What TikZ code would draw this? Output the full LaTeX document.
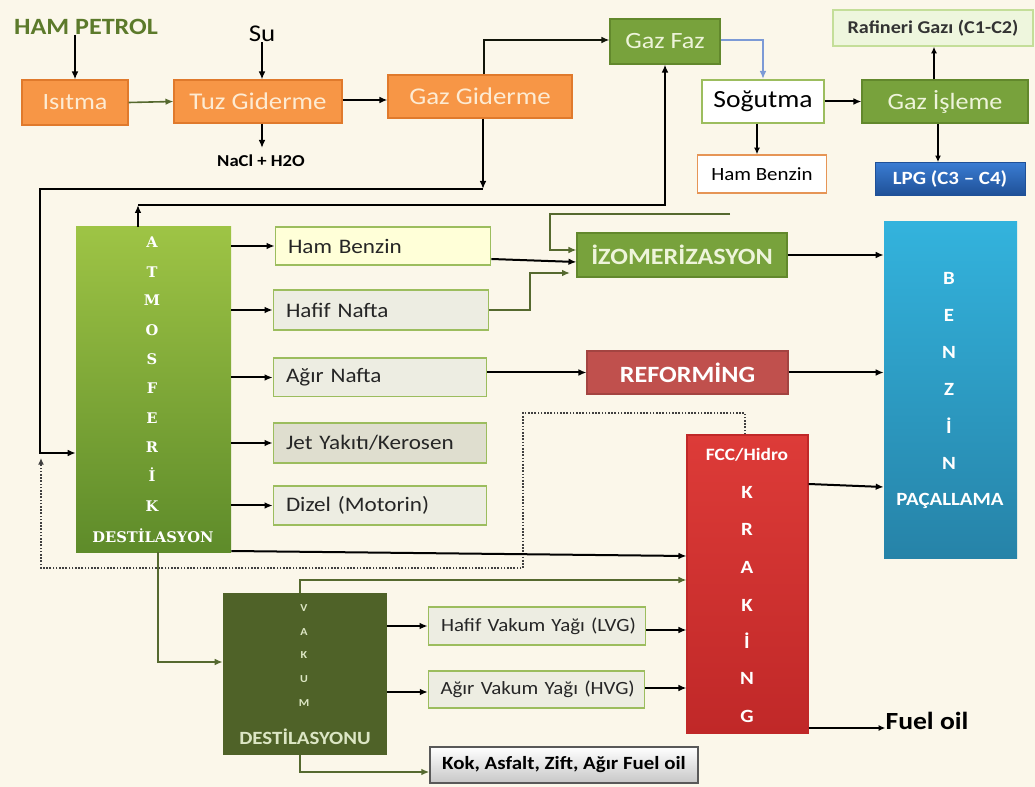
\documentclass[tikz,border=0pt]{standalone}
\usepackage{fontspec}
\setmainfont{Carlito}[FakeStretch=1.12]
\newfontfamily\slab{DejaVu Serif}
\usetikzlibrary{arrows.meta,calc}
\definecolor{bg}{HTML}{FBF7EA}
\definecolor{org}{HTML}{F79646}
\definecolor{orgd}{HTML}{E07A2C}
\definecolor{orgtxt}{HTML}{FDEBD3}
\definecolor{grn}{HTML}{78A23C}
\definecolor{grnd}{HTML}{62882C}
\definecolor{grntxt}{HTML}{EEF4DA}
\definecolor{olive}{HTML}{55692F}
\definecolor{dkol}{HTML}{4F6228}
\definecolor{hpc}{HTML}{5C7A2B}
\definecolor{bluel}{HTML}{7C9AD6}
\definecolor{pfill}{HTML}{EDEDE2}
\definecolor{pdraw}{HTML}{9CBD5E}
\definecolor{yfill}{HTML}{FFFFD8}
\definecolor{jfill}{HTML}{DFDECF}
\definecolor{rafill}{HTML}{EEF6DD}
\definecolor{radraw}{HTML}{C4DE99}
\definecolor{lpgt}{HTML}{3A7CD2}
\definecolor{lpgb}{HTML}{1F5097}
\definecolor{bzt}{HTML}{33B3DD}
\definecolor{bzb}{HTML}{2683A8}
\definecolor{fcct}{HTML}{DD3B38}
\definecolor{fccb}{HTML}{C02828}
\definecolor{refc}{HTML}{C0504D}
\definecolor{atmt}{HTML}{9EC445}
\definecolor{atmb}{HTML}{5E8B2A}
\definecolor{vtxt}{HTML}{DCE6C4}
\tikzset{
  sz/.style 2 args={minimum width=#1*0.75pt,minimum height=#2*0.75pt},
  base/.style={rectangle,inner sep=0pt},
  obox/.style={base,fill=org,draw=orgd,line width=0.8pt,text=orgtxt,font=\fontsize{18}{21}\selectfont},
  gbox/.style={base,fill=grn,draw=grnd,line width=0.8pt,text=grntxt,font=\fontsize{17.5}{20}\selectfont},
  pbox/.style={base,fill=pfill,draw=pdraw,line width=1pt,inner xsep=9.5pt,align=left,text=black!85,font=\fontsize{15.5}{18}\selectfont},
  arr/.style={draw=black,line width=1.5pt,-{Latex[length=6pt,width=5pt]}},
  tarr/.style={draw=black,line width=1pt,-{Latex[length=5pt,width=4.5pt]}},
  oarr/.style={draw=olive,line width=1.2pt,-{Latex[length=6pt,width=5pt]}},
  dot/.style={draw=black!75,line width=1.3pt,dash pattern=on 1.2pt off 1.2pt},
  atmL/.style={inner sep=0pt,text=white,font=\slab\bfseries\fontsize{11}{12}\selectfont},
  bzL/.style={inner sep=0pt,text=white,font=\bfseries\fontsize{14}{16}\selectfont},
  vkL/.style={inner sep=0pt,text=vtxt,font=\bfseries\fontsize{8}{9}\selectfont},
}
\begin{document}
\begin{tikzpicture}[x=0.75pt,y=-0.75pt]
\fill[bg] (0,0) rectangle (1035,787);
\useasboundingbox (0,0) rectangle (1035,787);

% top row
\node[inner sep=0pt,text=hpc,font=\bfseries\fontsize{17.5}{20}\selectfont] (hp) at (86,27) {HAM PETROL};
\node[inner sep=0pt,font=\fontsize{18}{20}\selectfont] (su) at (262,34) {Su};
\node[obox,sz={106}{45},font=\fontsize{17.5}{20}\selectfont] (isitma) at (75,102.5) {Isıtma};
\node[obox,sz={168}{43}] (tuz) at (258,101.5) {Tuz Giderme};
\node[obox,sz={184}{43}] (gazgid) at (480,96.5) {Gaz Giderme};
\node[inner sep=0pt,font=\bfseries\fontsize{12.5}{14}\selectfont] (nacl) at (261,161) {NaCl + H2O};
\node[gbox,sz={110}{45}] (gazfaz) at (665,41.5) {Gaz Faz};
\node[base,fill=white,draw=pdraw,line width=1pt,sz={122}{43},font=\fontsize{18.5}{22}\selectfont] (sogutma) at (763,101.5) {Soğutma};
\node[gbox,sz={166}{43}] (gazisl) at (945,101.5) {Gaz İşleme};
\node[base,fill=rafill,draw=radraw,line width=1pt,sz={200}{36},text=black!80,font=\bfseries\fontsize{13.5}{15}\selectfont] (rafgaz) at (933,28) {Rafineri Gazı (C1-C2)};
\node[base,top color=lpgt,bottom color=lpgb,draw=lpgb,sz={150}{33},text=white,font=\bfseries\fontsize{14}{16}\selectfont] (lpg) at (950,179) {LPG (C3 – C4)};
\node[base,fill=white,draw=orgd!80,line width=1pt,sz={129}{38},font=\fontsize{14}{16}\selectfont] (hbtop) at (762,174) {Ham Benzin};

% atmosferik column
\node[base,top color=atmt,bottom color=atmb,sz={155}{325}] (atm) at (153.5,389.5) {};
\foreach \t/\yy [count=\i] in {A/242,T/272,M/300,O/330,S/359,F/388,E/418,R/447,İ/475,K/506}
  \node[atmL] (atmL\i) at (152,\yy) {\t};
\node[atmL] (atmD) at (153,536) {DESTİLASYON};

% product boxes
\node[pbox,fill=yfill,text width=142.5pt,minimum height=28.5pt] (hb) at (383,246) {Ham Benzin};
\node[pbox,text width=142.5pt,minimum height=30pt] (hn) at (381,310) {Hafif Nafta};
\node[pbox,text width=141pt,minimum height=29pt] (an) at (380,377.5) {Ağır Nafta};
\node[pbox,fill=jfill,text width=141pt,minimum height=30pt] (jet) at (380,443) {Jet Yakıtı/Kerosen};
\node[pbox,text width=141pt,minimum height=29pt] (diz) at (380,505.5) {Dizel (Motorin)};

% processes
\node[gbox,sz={210}{44},font=\bfseries\fontsize{17.5}{20}\selectfont] (izo) at (682,255) {İZOMERİZASYON};
\node[base,fill=refc,draw=refc!85!black,line width=0.8pt,sz={201}{43},text=white,font=\bfseries\fontsize{17.5}{20}\selectfont] (ref) at (687.5,372.5) {REFORMİNG};
\node[base,top color=bzt,bottom color=bzb,sz={133}{336}] (benzin) at (950.5,390) {};
\foreach \t/\yy [count=\i] in {B/278,E/315,N/352,Z/389,İ/426,N/463}
  \node[bzL] (bzL\i) at (949,\yy) {\t};
\node[bzL] (bzP) at (950,501) {PAÇALLAMA};
\node[base,top color=fcct,bottom color=fccb,draw=fccb,line width=0.8pt,sz={121}{298}] (fcc) at (747.5,584) {};
\node[bzL,font=\bfseries\fontsize{13}{15}\selectfont] (fccT) at (747,455) {FCC/Hidro};
\foreach \t/\yy [count=\i] in {K/492,R/529,A/567,K/605,İ/641,N/678,G/716}
  \node[bzL] (fccL\i) at (747,\yy) {\t};
\node[inner sep=0pt,font=\bfseries\fontsize{18.5}{21}\selectfont] (fuel) at (927,721) {Fuel oil};

% vakum
\node[base,fill=dkol,sz={164}{162}] (vakum) at (305,674) {};
\foreach \t/\yy [count=\i] in {V/608,A/632,K/655,U/679,M/703}
  \node[vkL] (vkL\i) at (304,\yy) {\t};
\node[inner sep=0pt,text=vtxt,font=\bfseries\fontsize{14}{16}\selectfont] (vkD) at (305,737) {DESTİLASYONU};
\node[pbox,text width=156pt,inner xsep=3.5pt,minimum height=28.5pt,font=\fontsize{14}{17}\selectfont] (lvg) at (537,626) {\hspace*{6pt}Hafif Vakum Yağı (LVG)};
\node[pbox,text width=156pt,inner xsep=3pt,minimum height=27.75pt,font=\fontsize{14}{17}\selectfont] (hvg) at (536.5,689.5) {\hspace*{6pt}Ağır Vakum Yağı (HVG)};
\node[base,top color=white,bottom color=black!22,draw=black!65,line width=1pt,sz={268}{36},font=\bfseries\fontsize{14}{16}\selectfont] (kok) at (564,765) {Kok, Asfalt, Zift, Ağır Fuel oil};

% coordinates for free ends / corners
\coordinate (c1) at (483,189);
\coordinate (c2) at (138,205);
\coordinate (c3) at (730,214);

% connectors - top
\draw[arr] (hp.south -| isitma.north) -- (isitma.north);
\draw[arr] (su.south) -- (su.south |- tuz.north);
\draw[oarr] (isitma.east) -- (tuz.west);
\draw[arr] (tuz.east |- 0,100) -- (gazgid.west |- 0,100);
\draw[arr] (tuz.south -| su.south) -- (262,148);
\draw[draw=black!80!olive,line width=1.5pt,-{Latex[length=6pt,width=5pt]}] (gazgid.north -| 484,0) -- (484,40) -- (gazfaz.west |- 0,40);
\draw[arr] (gazgid.south -| c1) -- (c1);
\draw[arr] (c1) -- (40,189) -- (40,453) -- (atm.west |- 0,453);
\draw[draw=bluel,line width=1.2pt,-{Latex[length=6pt,width=5pt]}] (gazfaz.east |- 0,40) -- (763,40) -- (763,79);
\draw[arr] (sogutma.east) -- (gazisl.west);
\draw[tarr,line width=1.3pt] (gazisl.north -| 934,0) -- (rafgaz.south -| 934,0);
\draw[tarr,line width=1.3pt] (gazisl.south -| 938,0) -- (lpg.north -| 938,0);
\draw[tarr,line width=1.3pt] (sogutma.south -| 757,0) -- (hbtop.north -| 757,0);

% atmosferik to gaz faz
\draw[arr,line width=1.3pt] (atm.north -| c2) -- (c2);
\draw[arr,line width=1.3pt] (c2) -- (665,205) -- (gazfaz.south);
\draw[oarr] (c3) -- (550,214) -- (550,250) -- (izo.west |- 0,250);

% atmosferik outputs
\foreach \b in {hb,hn,an,jet,diz}
  \draw[arr] (atm.east |- \b.west) -- (\b.west);
\draw[arr] (hb.east |- 0,259) -- (izo.west |- 0,262);
\draw[oarr] (hn.east) -- (530,310) -- (530,273) -- (570,273);
\draw[arr] (izo.east) -- (izo.east -| benzin.west);
\draw[arr] (an.east |- ref.west) -- (ref.west);
\draw[arr] (ref.east) -- (ref.east -| benzin.west);
\draw[arr] (fcc.east |- 0,484) -- (benzin.west |- 0,487);
\draw[tarr] (fcc.east |- 0,728) -- (fuel.west |- 0,728);

% dotted recycle
\draw[dot,-{Latex[length=5pt,width=4.5pt]}] (fcc.north -| 745,0) -- (745,413) -- (523,413) -- (523,568) -- (41,568) -- (41,458);

% to FCC
\draw[arr] (atm.east |- 0,551) -- (fcc.west |- 0,556);
\draw[oarr] (vakum.north -| 300,0) -- (300,580) -- (fcc.west |- 0,580);
\draw[oarr] (atm.south -| 158,0) -- (158,662) -- (vakum.west |- 0,662);
\draw[arr] (vakum.east |- lvg.west) -- (lvg.west);
\draw[arr] (vakum.east |- 0,692) -- (hvg.west |- 0,692);
\draw[arr] (lvg.east |- 0,630) -- (fcc.west |- 0,630);
\draw[arr] (hvg.east |- 0,688) -- (fcc.west |- 0,688);
\draw[oarr] (vakum.south -| 300,0) -- (300,772) -- (kok.west |- 0,772);
\end{tikzpicture}
\end{document}
